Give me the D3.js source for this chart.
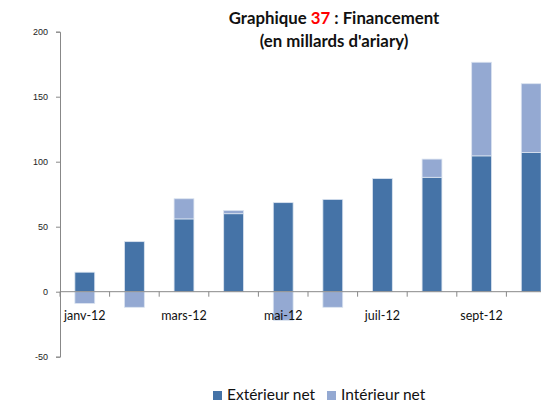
<!DOCTYPE html>
<html>
<head>
<meta charset="utf-8">
<script src="https://cdn.jsdelivr.net/npm/d3@7"></script>
<style>
  html, body { margin: 0; padding: 0; background: #fff; overflow: hidden; }
  svg { display: block; font-family: Lato, "Open Sans", sans-serif; }
</style>
</head>
<body>
<svg id="chart" width="541" height="404"></svg>
<script>
// Monthly financing, billions of ariary
const months = ["janv-12", "févr-12", "mars-12", "avr-12", "mai-12", "juin-12", "juil-12", "août-12", "sept-12", "oct-12"];
const exterieurNet = [15, 38.5, 56, 60, 68.5, 71, 87, 88, 104.5, 107];
const interieurNet = [-9, -12, 15.5, 2.5, -22, -12, 0, 14, 72, 53];
const seriesNames = ["Extérieur net", "Intérieur net"];
const yTicks = [-50, 0, 50, 100, 150, 200];
const colors = ["#4573a7", "#94a9d2"];

const svg = d3.select("#chart");
const x0 = 60, x1 = 556;
const y = d3.scaleLinear().domain([-50, 200]).range([356.7, 31.7]);
const x = d3.scaleBand().domain(months).range([x0, x1]).paddingInner(0.6).paddingOuter(0.3);

const rows = months.map((m, i) => ({ month: m, ext: exterieurNet[i], int: interieurNet[i] }));
const stacked = d3.stack().keys(["ext", "int"]).offset(d3.stackOffsetDiverging)(rows);

// Bars
svg.append("g").selectAll("g").data(stacked).join("g")
  .attr("fill", (d, i) => colors[i])
  .selectAll("rect").data(d => d).join("rect")
  .attr("x", d => x(d.data.month))
  .attr("width", x.bandwidth())
  .attr("y", d => y(Math.max(d[0], d[1])))
  .attr("height", d => Math.abs(y(d[0]) - y(d[1])))
  .attr("stroke", "#dbe4f0")
  .attr("stroke-width", 0.8);

// Y axis
const yAxis = svg.append("g").attr("transform", `translate(${x0},0)`)
  .call(d3.axisLeft(y).tickValues(yTicks).tickFormat(d => String(d)).tickSize(4).tickPadding(8));
yAxis.select(".domain").attr("stroke", "#888");
yAxis.selectAll(".tick line").attr("stroke", "#888");
yAxis.selectAll(".tick text").attr("fill", "#222").attr("font-size", 9);

// X axis on the zero line, ticks between categories
const step = x.step();
const xAxisG = svg.append("g").attr("transform", `translate(0,${y(0)})`);
xAxisG.append("line").attr("x1", x0).attr("x2", x1).attr("stroke", "#888");
const bounds = d3.range(months.length + 1).map(i => x0 + i * step);
xAxisG.selectAll("line.tk").data(bounds).join("line").attr("class", "tk")
  .attr("x1", d => d).attr("x2", d => d).attr("y1", 0).attr("y2", 5).attr("stroke", "#888");
xAxisG.selectAll("text").data(months.filter((m, i) => i % 2 === 0)).join("text")
  .attr("x", d => x(d) + x.bandwidth() / 2)
  .attr("y", 28)
  .attr("text-anchor", "middle")
  .attr("font-size", 12.5)
  .attr("fill", "#111")
  .text(d => d);

// Title
const title = svg.append("text").attr("x", 334).attr("y", 24).attr("text-anchor", "middle")
  .attr("font-weight", "bold").attr("font-size", 16.8).attr("fill", "#111");
title.append("tspan").text("Graphique ");
title.append("tspan").attr("fill", "#ff0000").text("37");
title.append("tspan").text(" : Financement");
svg.append("text").attr("x", 334).attr("y", 47).attr("text-anchor", "middle")
  .attr("font-weight", "bold").attr("font-size", 16.8).attr("fill", "#111")
  .text("(en millards d'ariary)");

// Legend
const legend = svg.append("g");
const legendX = [213, 327];
seriesNames.forEach((name, i) => {
  legend.append("rect").attr("x", legendX[i]).attr("y", 391).attr("width", 9).attr("height", 9).attr("fill", colors[i]);
  legend.append("text").attr("x", legendX[i] + 14).attr("y", 400).attr("font-size", 15.5).attr("fill", "#111").text(name);
});
</script>
</body>
</html>
